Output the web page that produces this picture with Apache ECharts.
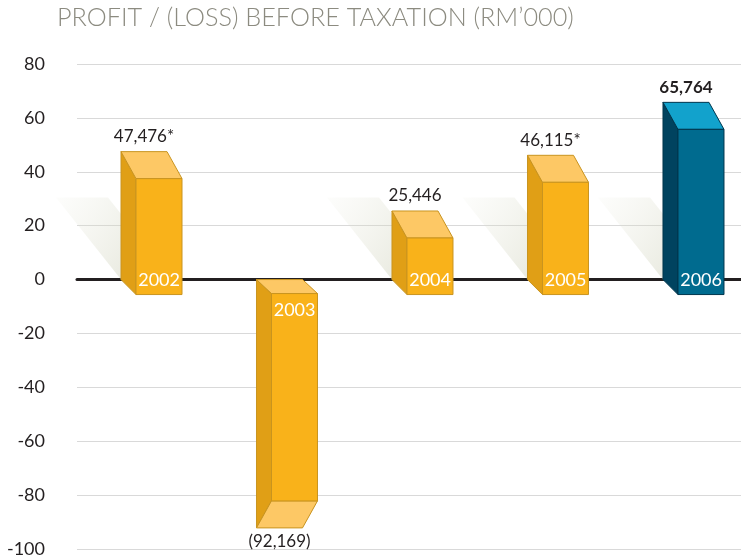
<!DOCTYPE html>
<html>
<head>
<meta charset="utf-8">
<script src="https://cdn.jsdelivr.net/npm/echarts@6/dist/echarts.min.js"></script>
<style>
  html, body { margin: 0; padding: 0; background: #fff; }
  #chart { width: 741px; height: 558px; }
</style>
</head>
<body>
<div id="chart"></div>
<script>
// data (RM'000, axis in thousands)
var years = ['2002', '2003', '2004', '2005', '2006'];
var values = [47.476, -92.169, 25.446, 46.115, 65.764];
var valueLabels = ['47,476*', '(92,169)', '25,446', '46,115*', '65,764'];
var highlight = [false, false, false, false, true];

var yMin = -100, yMax = 80, yStep = 20;

// look of the fake 3d bars
var BAR_W = 46, DX = 15, DY_CAP = 27, DY_BASE = 15;
var yellow = { front: '#f9b21a', side: '#e09f16', top: '#fdc865', line: '#c99420' };
var blue = { front: '#006b8f', side: '#00435f', top: '#12a2cc', line: '#00364d' };

var chart = echarts.init(document.getElementById('chart'));

function poly(pts, fill, stroke) {
  return { type: 'polygon', shape: { points: pts }, style: { fill: fill, stroke: stroke, lineWidth: 1 } };
}

function renderBar(params, api) {
  var i = api.value(0);
  var v = api.value(1);
  var p = api.coord([i, v]);
  var p0 = api.coord([i, 0]);
  var xL = p[0] - BAR_W / 2, yv = p[1], y0 = p0[1];
  var c = highlight[i] ? blue : yellow;
  var kids = [];
  var frontTop, frontBot;
  if (v >= 0) {
    frontTop = yv + DY_CAP; frontBot = y0 + DY_BASE;
    kids.push(poly([[xL, yv], [xL + DX, frontTop], [xL + DX, frontBot], [xL, y0]], c.side, c.line));
    kids.push(poly([[xL, yv], [xL + BAR_W, yv], [xL + BAR_W + DX, frontTop], [xL + DX, frontTop]], c.top, c.line));
  } else {
    frontTop = y0 + DY_BASE - 1; frontBot = yv - DY_CAP;
    kids.push(poly([[xL, y0], [xL + DX, frontTop], [xL + DX, frontBot], [xL, yv]], c.side, c.line));
    kids.push(poly([[xL, y0], [xL + BAR_W, y0], [xL + BAR_W + DX, frontTop], [xL + DX, frontTop]], c.top, c.line));
    kids.push(poly([[xL, yv], [xL + BAR_W, yv], [xL + BAR_W + DX, frontBot], [xL + DX, frontBot]], c.top, c.line));
  }
  kids.push({
    type: 'rect',
    shape: { x: xL + DX, y: frontTop, width: BAR_W, height: frontBot - frontTop },
    style: { fill: c.front, stroke: c.line, lineWidth: 1 }
  });
  // year inside the front face
  kids.push({
    type: 'text',
    style: {
      text: years[i],
      x: xL + DX + BAR_W - 2,
      y: v >= 0 ? y0 + 1 : y0 + 31,
      align: 'right', verticalAlign: 'middle',
      fill: '#fff', fontSize: 18, fontFamily: 'Lato'
    }
  });
  // value label
  kids.push({
    type: 'text',
    style: {
      text: valueLabels[i],
      x: p[0],
      y: v >= 0 ? yv - 15 : yv + 14,
      align: 'center', verticalAlign: 'middle',
      fill: '#231f20', fontSize: 17, fontFamily: 'Lato',
      fontWeight: highlight[i] ? 'bold' : 'normal'
    }
  });
  return { type: 'group', children: kids };
}

function renderShadow(params, api) {
  var i = api.value(0);
  var v = api.value(1);
  if (v <= 0) return null;
  var p0 = api.coord([i, 0]);
  var xL = p0[0] - BAR_W / 2, y0 = p0[1];
  return {
    type: 'polygon',
    shape: { points: [[xL, y0], [xL + 52, y0], [xL - 13, y0 - 82], [xL - 65, y0 - 82]] },
    style: {
      fill: new echarts.graphic.LinearGradient(1, 1, 0, 0, [
        { offset: 0, color: 'rgba(200,202,178,0.6)' },
        { offset: 1, color: 'rgba(225,227,210,0.08)' }
      ])
    }
  };
}

var barData = values.map(function (v, i) { return [i, v]; });

var option = {
  backgroundColor: '#fff',
  animation: false,
  graphic: [{
    type: 'text',
    left: 57,
    top: 5,
    scaleX: 0.97,
    style: {
      text: 'PROFIT / (LOSS) BEFORE TAXATION (RM’000)',
      fill: '#8c8b80',
      fontSize: 26,
      fontWeight: 300,
      fontFamily: 'Lato'
    }
  }],
  grid: {
    left: 77,
    right: 0,
    top: 64,
    bottom: 8
  },
  // category positions 0..4 on a plain value scale, so bar spacing matches the picture
  xAxis: {
    type: 'value',
    min: -0.4945,
    max: 4.406,
    axisLabel: { show: false },
    axisTick: { show: false },
    axisLine: { onZero: true, lineStyle: { color: '#231f20', width: 3 } },
    splitLine: { show: false }
  },
  yAxis: {
    type: 'value',
    min: yMin,
    max: yMax,
    interval: yStep,
    axisLine: { show: false },
    axisTick: { show: false },
    axisLabel: { color: '#231f20', fontSize: 18, fontFamily: 'Lato', margin: 32 },
    splitLine: { lineStyle: { color: '#d9d9d9', width: 1 } }
  },
  series: [
    {
      type: 'custom',
      name: 'shadow',
      z: 1,
      silent: true,
      renderItem: renderShadow,
      data: barData
    },
    {
      type: 'custom',
      name: 'profit',
      z: 3,
      renderItem: renderBar,
      data: barData
    }
  ]
};

chart.setOption(option);
</script>
</body>
</html>
